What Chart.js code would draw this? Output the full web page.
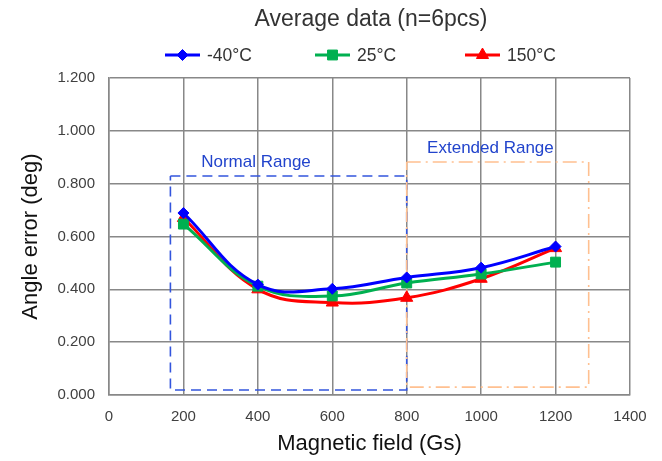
<!DOCTYPE html>
<html>
<head>
<meta charset="utf-8">
<script src="https://cdn.jsdelivr.net/npm/chart.js@4.4.0/dist/chart.umd.min.js"></script>
<style>
  html, body { margin: 0; padding: 0; background: #fff; }
  #wrap { width: 662px; height: 461px; }
</style>
</head>
<body>
<div id="wrap"><canvas id="chart" width="662" height="461"></canvas></div>
<script>
// Dados
const fields = [200, 400, 600, 800, 1000, 1200];
const minus40 = [0.689, 0.418, 0.402, 0.445, 0.482, 0.562];
const room25 = [0.647, 0.412, 0.375, 0.424, 0.458, 0.503];
const hot150 = [0.670, 0.400, 0.350, 0.368, 0.440, 0.556];
const seriesNames = ['-40°C', '25°C', '150°C'];
const seriesColors = ['#0000ff', '#00b050', '#ff0000'];
const seriesMarkers = ['rectRot', 'rect', 'triangle'];
const markerRadius = [5.5, 7, 7];

// Caixas de faixa (em unidades dos eixos)
const normalBoxX = [165, 800, 800, 165, 165];
const normalBoxY = [0.829, 0.829, 0.019, 0.019, 0.829];
const extendedBoxX = [800, 1289, 1289, 800, 800];
const extendedBoxY = [0.882, 0.882, 0.030, 0.030, 0.882];

const FONT = '"Liberation Sans", Arial, sans-serif';

function toPoints(xs, ys) {
    return xs.map((x, i) => ({ x: x, y: ys[i] }));
}

const seriesData = [minus40, room25, hot150];

const datasets = seriesData.map((vals, i) => ({
    label: seriesNames[i],
    data: toPoints(fields, vals),
    borderColor: seriesColors[i],
    backgroundColor: seriesColors[i],
    borderWidth: 3,
    pointStyle: seriesMarkers[i],
    pointRadius: markerRadius[i],
    pointBorderWidth: 1,
    tension: 0.4,
    showLine: true,
    order: 1
}));

datasets.push({
    label: 'normal-box',
    data: toPoints(normalBoxX, normalBoxY),
    borderColor: '#3355dd',
    borderWidth: 1.6,
    borderDash: [10, 6],
    pointRadius: 0,
    showLine: true,
    tension: 0,
    order: 3
});
datasets.push({
    label: 'extended-box',
    data: toPoints(extendedBoxX, extendedBoxY),
    borderColor: '#ffc090',
    borderWidth: 1.6,
    borderDash: [14, 5, 2, 5],
    pointRadius: 0,
    showLine: true,
    tension: 0,
    order: 2
});

// Título, legenda e rótulos das faixas
const decorPlugin = {
    id: 'decor',
    afterDraw(chart) {
        const ctx = chart.ctx;
        const xs = chart.scales.x, ys = chart.scales.y;
        ctx.save();
        ctx.fillStyle = '#333';
        ctx.font = '23px ' + FONT;
        ctx.textAlign = 'center';
        ctx.textBaseline = 'middle';
        ctx.fillText('Average data (n=6pcs)', 371, 20);

        // Legenda
        const legendX = [165, 315, 465];
        const ly = 55;
        ctx.font = '17.5px ' + FONT;
        ctx.textAlign = 'left';
        seriesNames.forEach((name, i) => {
            const x0 = legendX[i];
            ctx.strokeStyle = seriesColors[i];
            ctx.lineWidth = 3;
            ctx.beginPath();
            ctx.moveTo(x0, ly);
            ctx.lineTo(x0 + 35, ly);
            ctx.stroke();
            ctx.fillStyle = seriesColors[i];
            ctx.lineWidth = 1;
            Chart.helpers.drawPoint(ctx, {
                pointStyle: seriesMarkers[i],
                radius: markerRadius[i],
                rotation: 0,
                borderWidth: 1
            }, x0 + 17.5, ly);
            ctx.fillStyle = '#333';
            ctx.fillText(name, x0 + 42, ly + 1);
        });

        // Rótulos das faixas
        ctx.font = '17px ' + FONT;
        ctx.fillStyle = '#2244cc';
        ctx.textAlign = 'center';
        ctx.fillText('Normal Range', xs.getPixelForValue(395), ys.getPixelForValue(0.88));
        ctx.fillText('Extended Range', xs.getPixelForValue(1025), ys.getPixelForValue(0.935));
        ctx.restore();
    }
};

new Chart(document.getElementById('chart'), {
    type: 'scatter',
    data: { datasets: datasets },
    options: {
        responsive: false,
        animation: false,
        layout: { padding: { top: 78, right: 32, left: 0, bottom: 0 } },
        plugins: {
            legend: { display: false },
            title: { display: false },
            tooltip: { enabled: false }
        },
        scales: {
            x: {
                type: 'linear',
                min: 0,
                max: 1400,
                ticks: {
                    stepSize: 200,
                    color: '#404040',
                    font: { family: FONT, size: 15 },
                    padding: 13,
                    callback: v => String(v)
                },
                grid: { color: '#888', lineWidth: 1.5, drawTicks: false },
                border: { color: '#888', width: 1.5 },
                title: {
                    display: true,
                    text: 'Magnetic field (Gs)',
                    color: '#111',
                    font: { family: FONT, size: 22 },
                    padding: { top: 4, bottom: 4 }
                },
                afterFit(scale) { scale.height = 66; }
            },
            y: {
                min: 0,
                max: 1.2,
                ticks: {
                    stepSize: 0.2,
                    color: '#404040',
                    font: { family: FONT, size: 15 },
                    padding: 14,
                    callback: v => v.toFixed(3)
                },
                grid: { color: '#888', lineWidth: 1.5, drawTicks: false },
                border: { color: '#888', width: 1.5 },
                title: {
                    display: true,
                    text: 'Angle error (deg)',
                    color: '#111',
                    font: { family: FONT, size: 22 },
                    padding: { top: 18, bottom: 0 }
                },
                afterFit(scale) { scale.width = 109; }
            }
        }
    },
    plugins: [decorPlugin]
});
</script>
</body>
</html>
